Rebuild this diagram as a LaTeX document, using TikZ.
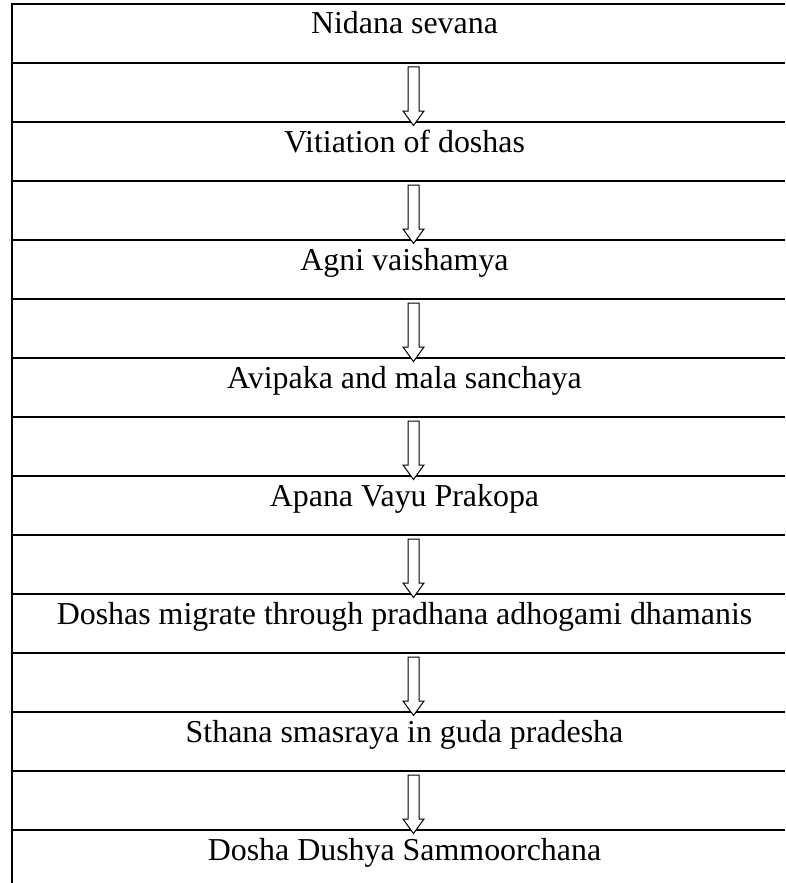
\documentclass[tikz,border=0pt]{standalone}
\usepackage{fontspec}
\setmainfont{Liberation Serif}
\begin{document}
\begin{tikzpicture}[x=1pt,y=-1pt,
  rule/.style={line width=1.6pt},
  stage/.style={anchor=base,inner sep=0pt,font=\fontsize{31.9}{36}\selectfont},
  hollow/.style={draw,line width=1pt,fill=white}]
\useasboundingbox (0,0) rectangle (785,883);
% rows
\foreach \y in {4,63,122,181,240,299,358,417,476,535,594,653,712,771,830}
  \draw[rule] (12,\y) -- (785,\y);
\draw[rule] (12,3.2) -- (12,883);
% texts
\node[stage] (t1) at (404.5,34)  {Nidana sevana};
\node[stage] (t2) at (404.5,152) {Vitiation of doshas};
\node[stage] (t3) at (404.5,270) {Agni vaishamya};
\node[stage] (t4) at (404.5,388) {Avipaka and mala sanchaya};
\node[stage] (t5) at (404.5,506) {Apana Vayu Prakopa};
\node[stage] (t6) at (404.5,624) {Doshas migrate through pradhana adhogami dhamanis};
\node[stage] (t7) at (404.5,742) {Sthana smasraya in guda pradesha};
\node[stage] (t8) at (404.5,860) {Dosha Dushya Sammoorchana};
% arrows
\foreach \t in {63,181,299,417,535,653,771}
  \draw[hollow] (408,\t+4) -- (419,\t+4) -- (419,\t+48) -- (424,\t+48)
     -- (413.5,\t+62.5) -- (403,\t+48) -- (408,\t+48) -- cycle;
\end{tikzpicture}
\end{document}
